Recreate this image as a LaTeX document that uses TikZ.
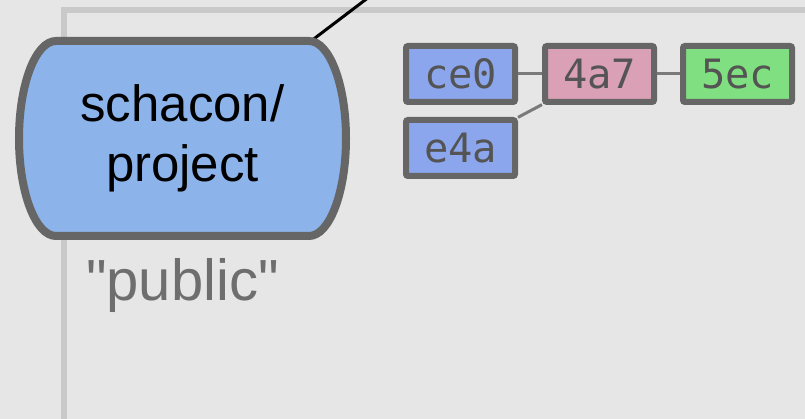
\documentclass[tikz,border=0pt]{standalone}
\usepackage{fontspec}
\setmainfont{Liberation Sans}
\newfontfamily\pubfont{Liberation Sans}
\newfontfamily\shafont{DejaVu Sans Mono}
\usepackage{xcolor}
\usepackage{tikz}
\usetikzlibrary{positioning,backgrounds}

\definecolor{bggray}{HTML}{E6E6E6}
\definecolor{framegray}{HTML}{C9C9C9}
\definecolor{edgegray}{HTML}{666666}
\definecolor{linkgray}{HTML}{7A7A7A}
\definecolor{repoblue}{HTML}{8CB4EB}
\definecolor{shablue}{HTML}{8BA6EC}
\definecolor{shapink}{HTML}{DAA0B6}
\definecolor{shagreen}{HTML}{80DF80}

\begin{document}
\begin{tikzpicture}[
    repo/.style={minimum width=6.54cm, minimum height=3.9cm, inner sep=0pt, outer sep=0pt,
        align=center, font=\fontsize{29}{34}\selectfont},
    repoedge/.style={draw=edgegray, fill=repoblue, line width=0.16cm},
    commit/.style={draw=edgegray, line width=0.12cm, minimum width=2.18cm, minimum height=1.12cm,
        rounded corners=0.04cm, inner sep=0pt, text=black!67, font=\shafont\fontsize{23}{27}\selectfont},
    parent/.style={draw=linkgray, line width=0.06cm},
    remote/.style={draw=black, line width=0.06cm}]
    \useasboundingbox (0,0) rectangle (16.1,-8.38);
    \begin{scope}[on background layer]
        \fill[bggray] (0,0) rectangle (16.1,-8.38);
        \draw[framegray, line width=0.12cm] (1.28,-0.2) rectangle (16.6,-8.44);
    \end{scope}

    \node[repo] (proj) at (3.65,-2.77) {schacon/\\project};
    \node[below=0.44cm of proj, inner sep=0pt, text=edgegray!95!white, font=\pubfont\fontsize{33}{40}\selectfont] (pub) {"public"};
    \coordinate (up) at (7.83,0.4);

    \node[commit, fill=shablue] (ce0) at (9.21,-1.48) {ce0};
    \node[commit, fill=shapink, right=0.48cm of ce0] (c4a7) {4a7};
    \node[commit, fill=shagreen, right=0.46cm of c4a7] (c5ec) {5ec};
    \node[commit, fill=shablue, below=0.24cm of ce0] (e4a) {e4a};
    \draw[parent] (ce0) -- (c4a7);
    \draw[parent] (c4a7) -- (c5ec);
    \draw[parent] (e4a) -- (c4a7);

    \begin{scope}[on background layer]
        \draw[remote] (proj.center) -- (up);
        \draw[repoedge] ([xshift=0.74cm]proj.north west) -- ([xshift=-0.74cm]proj.north east)
            arc[start angle=90, end angle=-90, x radius=0.74cm, y radius=1.95cm]
            -- ([xshift=0.74cm]proj.south west)
            arc[start angle=270, end angle=90, x radius=0.74cm, y radius=1.95cm] -- cycle;
    \end{scope}
\end{tikzpicture}
\end{document}
